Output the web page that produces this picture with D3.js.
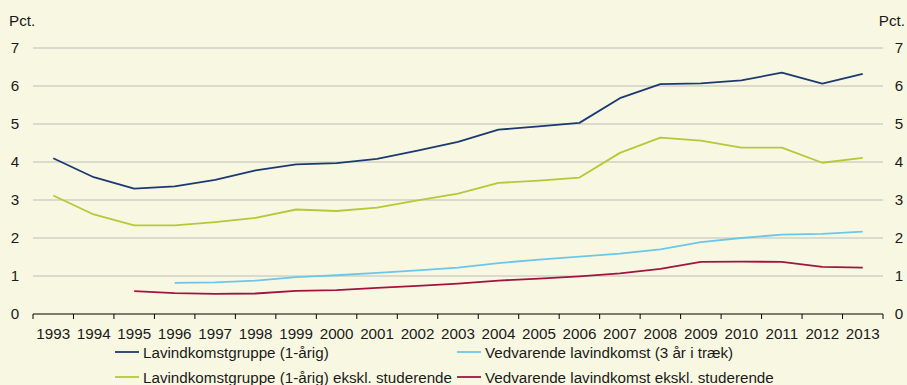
<!DOCTYPE html>
<html>
<head>
<meta charset="utf-8">
<script src="https://cdn.jsdelivr.net/npm/d3@7"></script>
<style>
  html, body { margin: 0; padding: 0; background: #f8f8e2; }
  svg { display: block; }
  text { font-family: "Liberation Sans", Arial, sans-serif; fill: #1a1a1a; }
</style>
</head>
<body>
<svg id="chart" width="907" height="385"></svg>
<script>
// Years on the category axis
const years = ["1993","1994","1995","1996","1997","1998","1999","2000","2001","2002",
  "2003","2004","2005","2006","2007","2008","2009","2010","2011","2012","2013"];

// Share of population, percent (null = no observation)
const lavindkomst = [4.10,3.60,3.30,3.36,3.53,3.78,3.94,3.97,4.08,4.30,4.53,4.85,4.94,5.03,5.68,6.05,6.07,6.15,6.35,6.06,6.32];
const lavindkomstEksklStud = [3.12,2.62,2.33,2.33,2.42,2.53,2.75,2.71,2.80,2.99,3.17,3.45,3.51,3.59,4.24,4.64,4.56,4.38,4.38,3.98,4.11];
const vedvarende = [null,null,null,0.82,0.83,0.88,0.97,1.02,1.08,1.15,1.22,1.34,1.43,1.51,1.59,1.70,1.89,2.00,2.09,2.11,2.17];
const vedvarendeEksklStud = [null,null,0.60,0.55,0.53,0.54,0.61,0.63,0.69,0.74,0.80,0.88,0.93,0.99,1.07,1.19,1.37,1.38,1.37,1.24,1.22];

const yTicks = [0,1,2,3,4,5,6,7];
const unitLabel = "Pct.";

const seriesNames = [
  "Lavindkomstgruppe (1-årig)",
  "Vedvarende lavindkomst (3 år i træk)",
  "Lavindkomstgruppe (1-årig) ekskl. studerende",
  "Vedvarende lavindkomst ekskl. studerende"
];
const seriesValues = [lavindkomst, vedvarende, lavindkomstEksklStud, vedvarendeEksklStud];
const seriesColors = ["#1c3a72", "#6cc6ea", "#b4c935", "#a3133f"];

const svg = d3.select("#chart");
const plot = { left: 33, right: 883, top: 48, bottom: 314 };
const fontSize = 15.2;

const x = d3.scaleBand().domain(years).range([plot.left, plot.right]);
const y = d3.scaleLinear().domain([0, 7]).range([plot.bottom, plot.top]);

// Horizontal gridlines
svg.append("g")
  .selectAll("line")
  .data(yTicks.filter(d => d > 0))
  .join("line")
  .attr("x1", plot.left).attr("x2", plot.right)
  .attr("y1", d => y(d)).attr("y2", d => y(d))
  .attr("stroke", "#d2d2c6").attr("stroke-width", 1.3);

// Value axes on both sides (labels only)
const fmt = d3.format("d");
const yAxisLeft = d3.axisLeft(y).tickValues(yTicks).tickFormat(fmt).tickSize(0).tickPadding(0);
const gl = svg.append("g").attr("transform", "translate(15,0)").call(yAxisLeft);
gl.select(".domain").remove();
gl.selectAll("text").attr("font-size", fontSize).attr("text-anchor", "middle");

const yAxisRight = d3.axisRight(y).tickValues(yTicks).tickFormat(fmt).tickSize(0).tickPadding(0);
const gr = svg.append("g").attr("transform", "translate(899,0)").call(yAxisRight);
gr.select(".domain").remove();
gr.selectAll("text").attr("font-size", fontSize).attr("text-anchor", "middle");

svg.append("text").attr("x", 9).attr("y", 26).attr("font-size", fontSize).text(unitLabel);
svg.append("text").attr("x", 905).attr("y", 26).attr("font-size", fontSize)
  .attr("text-anchor", "end").text(unitLabel);

// Category axis with ticks on band boundaries
const xAxis = d3.axisBottom(x).tickSize(0).tickPadding(14);
const gx = svg.append("g").attr("transform", `translate(0,${plot.bottom})`).call(xAxis);
gx.select(".domain").remove();
gx.selectAll("text").attr("font-size", fontSize).attr("fill", "#1a1a1a");

const bounds = years.map(d => x(d)).concat([plot.right]);
svg.append("g").selectAll("line").data(bounds).join("line")
  .attr("x1", d => d).attr("x2", d => d)
  .attr("y1", plot.bottom).attr("y2", plot.bottom + 5)
  .attr("stroke", "#000").attr("stroke-width", 1);
svg.append("line")
  .attr("x1", plot.left).attr("x2", plot.right)
  .attr("y1", plot.bottom).attr("y2", plot.bottom)
  .attr("stroke", "#000").attr("stroke-width", 1.2);

// Series lines
const line = d3.line()
  .defined(d => d.v !== null)
  .x(d => x(d.year) + x.bandwidth() / 2)
  .y(d => y(d.v));

seriesValues.forEach((vals, i) => {
  const pts = years.map((yr, j) => ({ year: yr, v: vals[j] }));
  svg.append("path")
    .datum(pts)
    .attr("d", line)
    .attr("fill", "none")
    .attr("stroke", seriesColors[i])
    .attr("stroke-width", 1.8)
    .attr("stroke-linejoin", "round");
});

// Legend, two columns by two rows
const legendPos = [
  { x: 115, y: 352 }, { x: 457, y: 352 },
  { x: 115, y: 377 }, { x: 457, y: 377 }
];
const legend = svg.append("g").selectAll("g").data(seriesNames).join("g")
  .attr("transform", (d, i) => `translate(${legendPos[i].x},${legendPos[i].y})`);
legend.append("line")
  .attr("x1", 0).attr("x2", 24).attr("y1", 0).attr("y2", 0)
  .attr("stroke", (d, i) => seriesColors[i]).attr("stroke-width", 1.8);
legend.append("text")
  .attr("x", 28).attr("y", 5.5).attr("font-size", fontSize)
  .text(d => d);
</script>
</body>
</html>
